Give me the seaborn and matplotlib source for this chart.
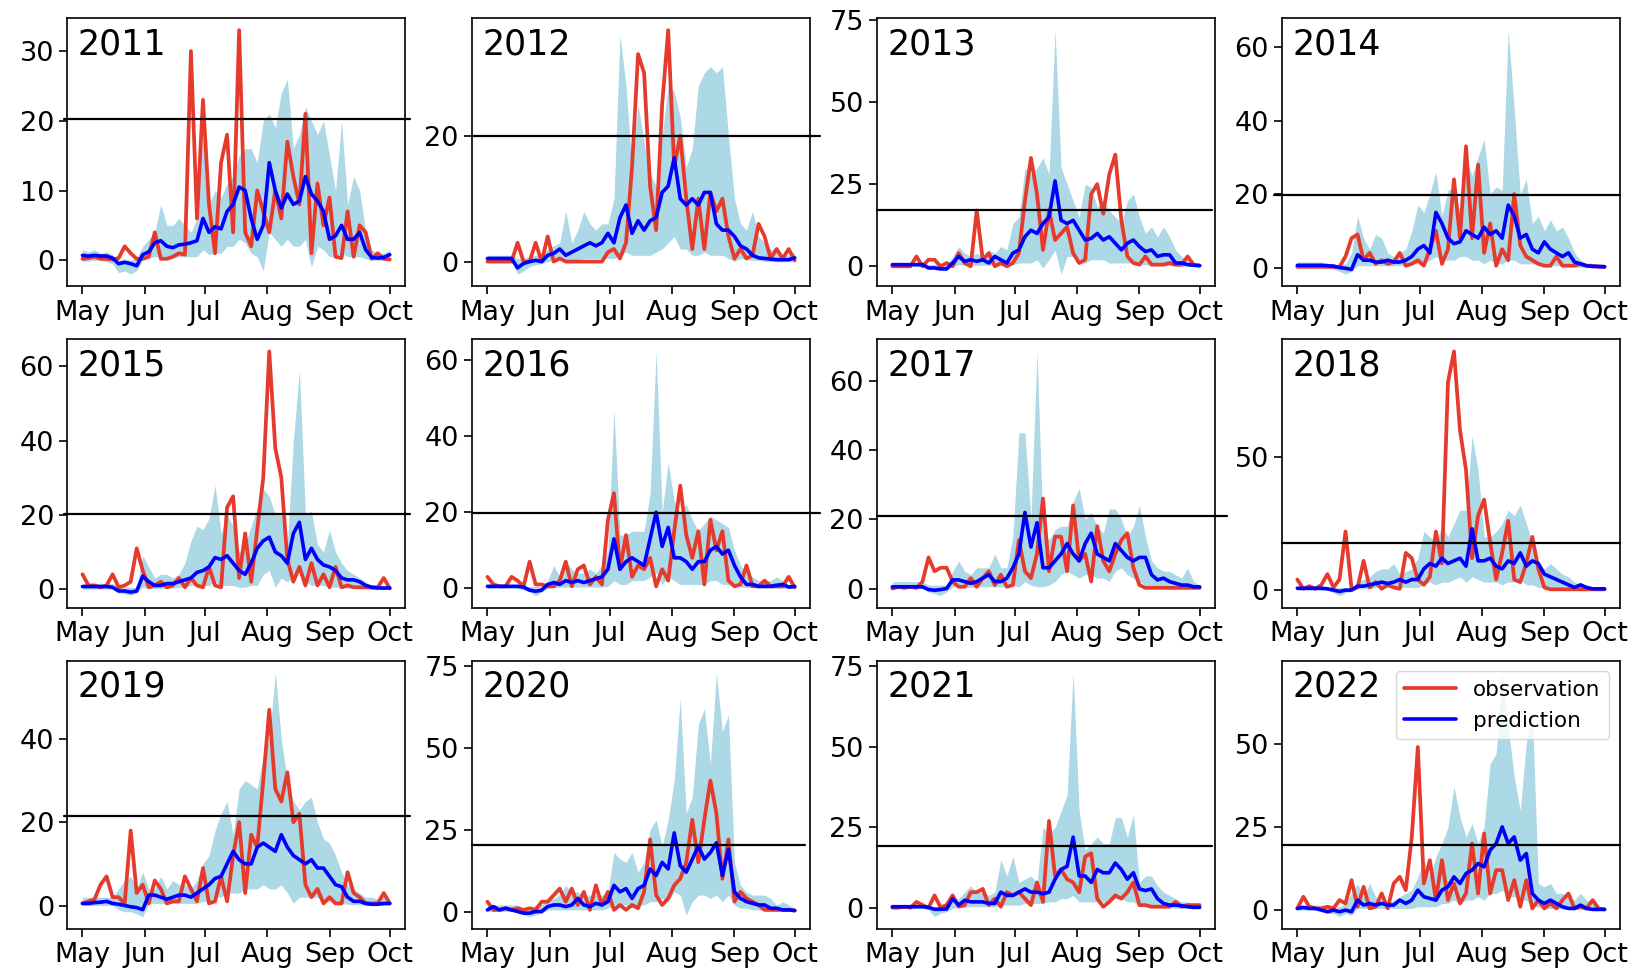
import numpy as np
import pandas as pd
import matplotlib
matplotlib.use("Agg")
import matplotlib.pyplot as plt
import matplotlib.dates as mdates
from matplotlib.ticker import MaxNLocator
import seaborn as sns

# ---------------------------------------------------------------------------
# Daily-season series (every third day, 1 May -> 1 Oct), one set per year
# ---------------------------------------------------------------------------
years = [2011, 2012, 2013, 2014, 2015, 2016, 2017, 2018, 2019, 2020, 2021, 2022]
thresholds = [20.2, 20.0, 17.1, 19.8, 20.1, 19.7, 21.1, 17.8, 21.6, 20.3, 19.4, 19.5]

obs_2011 = [0.2, 0.3, 0.5, 0.2, 0.2, 0.1, 0.3, 2.0, 1.0, 0.2, 0.2, 0.5, 4.0, 0.2, 0.2, 0.5, 1.0, 0.8, 30.0, 6.0,
            23.0, 8.0, 1.0, 14.0, 18.0, 4.0, 33.0, 4.0, 2.0, 10.0, 7.0, 4.0, 10.0, 6.0, 17.0, 12.0, 8.0, 21.0, 1.0, 11.0,
            5.0, 9.0, 0.5, 0.3, 7.0, 0.5, 5.0, 4.0, 0.2, 1.0, 0.2, 0.1]
pred_2011 = [0.7, 0.6, 0.7, 0.6, 0.6, 0.3, -0.5, -0.3, -0.5, -0.8, 0.8, 1.2, 2.5, 2.8, 2.0, 1.8, 2.2, 2.3, 2.5, 2.8,
             6.0, 4.0, 4.8, 4.5, 7.0, 8.0, 10.5, 10.0, 6.0, 3.0, 5.0, 14.0, 10.0, 7.5, 9.5, 8.0, 8.5, 12.0, 9.5, 8.5,
             7.0, 3.0, 3.5, 5.0, 3.0, 3.0, 4.0, 1.5, 0.4, 0.3, 0.4, 0.8]
lo_2011 = [-0.2, -0.1, 0.0, 0.0, -0.2, -0.5, -1.8, -1.5, -2.0, -1.5, 0.0, 0.3, 0.5, 0.5, 0.5, 0.3, 0.5, 0.5, 0.5, 0.5,
           1.5, 0.8, 1.0, 1.0, 2.0, 2.0, 3.0, 2.5, 1.0, 0.5, -1.5, 4.0, 3.0, 2.0, 3.0, 2.0, 2.0, 3.0, -1.0, 2.0,
           1.5, 0.5, 0.5, 1.0, 0.5, 0.5, 0.5, 0.2, 0.0, 0.0, 0.0, 0.2]
hi_2011 = [1.5, 1.2, 1.5, 1.0, 1.2, 0.8, 0.0, 0.2, 0.0, 0.3, 2.0, 3.0, 4.0, 8.0, 5.0, 5.0, 6.0, 5.0, 4.0, 6.0,
           18.0, 8.0, 10.0, 9.0, 11.0, 12.0, 15.0, 16.0, 16.0, 14.0, 20.0, 21.0, 19.0, 24.0, 26.0, 16.0, 18.0, 22.0, 20.0, 18.0,
           20.0, 15.0, 10.0, 20.0, 8.0, 12.0, 10.0, 4.0, 1.5, 1.0, 1.0, 1.5]

obs_2012 = [0.0, 0.0, 0.0, 0.0, 0.0, 3.0, 0.0, 0.0, 3.0, 0.0, 4.0, 0.0, 0.5, 0.0, 0.0, 0.0, 0.0, 0.0, 0.0, 0.0,
            1.5, 2.0, 0.5, 3.0, 15.0, 33.0, 30.0, 12.0, 5.0, 25.0, 36.8, 15.0, 20.0, 10.0, 2.0, 10.0, 2.0, 11.0, 8.0, 10.0,
            4.0, 0.5, 2.0, 0.5, 1.0, 6.0, 4.0, 0.5, 2.0, 0.5, 2.0, 0.2]
pred_2012 = [0.5, 0.5, 0.5, 0.5, 0.5, -1.0, -0.3, 0.0, 0.2, 0.0, 1.0, 1.3, 2.0, 1.0, 1.5, 2.0, 2.5, 3.0, 2.5, 3.0,
             4.5, 3.0, 7.0, 9.0, 4.5, 6.5, 5.0, 6.5, 7.0, 11.0, 12.0, 16.5, 10.0, 9.0, 10.0, 9.0, 11.0, 11.0, 6.0, 5.0,
             5.0, 4.0, 2.5, 2.0, 1.0, 0.6, 0.5, 0.4, 0.3, 0.3, 0.3, 0.6]
lo_2012 = [0.0, 0.0, 0.0, 0.0, 0.0, -2.0, -1.5, -0.8, -0.5, -0.3, 0.0, 0.2, 0.3, 0.3, 0.3, 0.3, 0.5, 0.5, 0.5, 0.5,
           0.5, 0.5, 1.0, 1.5, 1.0, 1.0, 1.0, 1.0, 1.5, 2.0, 3.0, 4.0, 2.0, 2.0, 1.0, 1.0, 1.5, 1.0, 1.0, 1.0,
           0.5, 0.0, 0.5, 0.3, 0.2, 0.2, 0.0, 0.0, 0.0, 0.0, 0.0, 0.0]
hi_2012 = [1.0, 1.0, 1.0, 1.0, 1.0, 0.5, 0.5, 0.8, 1.0, 1.0, 2.0, 2.5, 3.0, 8.0, 3.0, 5.0, 8.0, 6.0, 5.0, 6.0,
           6.0, 10.0, 36.0, 28.0, 15.0, 25.0, 19.0, 14.0, 12.0, 20.0, 28.0, 27.0, 23.0, 15.0, 18.0, 28.0, 30.0, 31.0, 30.0, 31.0,
           20.0, 10.0, 6.0, 5.0, 8.0, 4.0, 3.0, 2.0, 1.5, 1.0, 1.0, 1.5]

obs_2013 = [0.0, 0.0, 0.0, 0.0, 3.0, 0.0, 2.0, 2.0, 0.0, 1.0, 0.0, 4.0, 1.0, 0.0, 17.0, 2.0, 4.0, 0.0, 1.0, 0.0,
            1.0, 4.0, 20.0, 33.0, 22.0, 5.0, 17.0, 8.0, 10.0, 12.0, 4.0, 1.0, 2.0, 22.0, 25.0, 16.0, 28.0, 34.0, 14.0, 3.0,
            1.0, 0.5, 3.0, 0.5, 0.5, 0.5, 1.0, 0.5, 0.5, 3.0, 0.5, 0.2]
pred_2013 = [0.5, 0.5, 0.5, 0.5, 0.5, 0.5, -0.5, -0.5, -0.8, -0.8, 1.0, 3.0, 1.5, 2.0, 1.5, 2.0, 1.0, 3.0, 2.0, 1.0,
             4.0, 5.0, 9.0, 11.0, 10.0, 13.0, 15.0, 26.0, 14.0, 13.0, 14.0, 11.0, 8.0, 8.5, 10.0, 8.0, 9.0, 7.0, 5.0, 7.0,
             8.0, 6.0, 4.5, 5.0, 3.0, 3.5, 3.5, 1.0, 1.0, 0.5, 0.3, 0.2]
lo_2013 = [0.0, 0.0, 0.0, 0.0, 0.0, 0.0, -1.0, -1.0, -1.2, -1.0, 0.0, 0.5, 0.3, 0.3, 0.3, 0.3, 0.3, 0.5, 0.3, 0.3,
           0.5, 1.0, 1.0, 1.0, 2.0, -0.5, 2.0, 5.0, -2.4, 3.0, 3.0, 1.0, 1.0, 2.0, 2.0, 2.0, 1.0, 1.0, 1.0, 1.0,
           1.0, 0.5, 0.5, 0.3, 0.3, 0.2, 0.2, 0.0, 0.0, 0.0, 0.0, 0.0]
hi_2013 = [1.0, 1.0, 1.0, 1.0, 1.0, 1.0, 0.5, 0.5, 0.5, 0.5, 3.0, 6.0, 4.0, 3.0, 4.0, 3.0, 5.0, 4.0, 6.0, 5.0,
           13.0, 15.0, 30.0, 28.0, 30.0, 33.0, 28.0, 71.9, 30.0, 25.0, 20.0, 15.0, 25.0, 24.0, 18.0, 20.0, 17.0, 15.0, 13.0, 20.0,
           22.0, 15.0, 10.0, 12.0, 9.0, 12.0, 9.0, 5.0, 3.0, 2.0, 1.0, 1.0]

obs_2014 = [0.2, 0.2, 0.2, 0.2, 0.2, 0.2, 0.2, 0.2, 3.0, 8.0, 9.0, 2.0, 4.0, 1.0, 2.0, 1.0, 1.5, 4.0, 0.5, 1.0,
            2.0, 0.5, 5.0, 10.0, 1.0, 5.0, 24.0, 8.0, 33.0, 8.0, 28.0, 4.0, 12.0, 0.5, 5.0, 2.0, 20.0, 6.0, 3.0, 2.0,
            1.0, 0.5, 0.5, 3.0, 0.5, 0.5, 0.5, 1.0, 0.5, 0.5, 0.2, 0.2]
pred_2014 = [0.6, 0.6, 0.6, 0.6, 0.6, 0.5, 0.4, 0.0, -0.2, -0.5, 3.5, 2.0, 2.0, 1.5, 1.5, 2.0, 1.5, 1.5, 2.0, 3.0,
             5.0, 6.0, 4.0, 15.0, 12.0, 8.0, 6.5, 7.0, 10.0, 9.0, 8.0, 11.0, 9.0, 10.0, 8.0, 17.0, 14.0, 8.0, 9.0, 5.0,
             4.0, 7.0, 5.0, 4.0, 3.0, 4.0, 1.5, 1.0, 0.5, 0.3, 0.3, 0.2]
lo_2014 = [0.0, 0.0, 0.0, 0.0, 0.0, 0.0, -0.5, -1.0, -1.8, -1.0, 0.5, 0.5, 0.5, 0.5, 0.5, 0.5, 0.5, 0.5, 0.5, 1.0,
           1.0, 1.0, 2.0, 3.0, 2.0, 2.0, 2.0, 3.0, 3.0, 2.0, 2.0, 1.0, 2.0, 1.0, 1.0, 2.0, 2.0, 1.0, 1.0, 1.0,
           1.0, 0.5, 0.5, 0.5, 0.5, 0.3, 0.2, 0.0, 0.0, 0.0, 0.0, 0.0]
hi_2014 = [1.5, 1.5, 1.5, 1.5, 1.5, 1.2, 1.0, 0.5, 1.0, 4.0, 14.0, 8.0, 5.0, 9.0, 8.0, 4.0, 3.0, 4.0, 5.0, 10.0,
           17.0, 15.0, 20.0, 26.0, 14.0, 21.0, 22.0, 15.0, 30.0, 25.0, 30.0, 35.0, 20.0, 22.0, 21.0, 64.6, 43.0, 20.0, 24.0, 12.0,
           14.0, 10.0, 13.0, 10.0, 11.0, 8.0, 4.0, 2.0, 1.0, 1.0, 1.0, 1.0]

obs_2015 = [4.0, 1.0, 1.0, 0.5, 1.0, 4.0, 0.5, 1.0, 2.0, 11.0, 5.0, 0.5, 1.0, 2.0, 0.5, 1.0, 3.0, 0.5, 3.0, 1.0,
            0.5, 6.0, 1.0, 0.5, 22.0, 25.0, 3.0, 15.0, 2.0, 16.0, 30.0, 64.0, 38.0, 30.0, 8.0, 2.0, 6.0, 1.0, 7.0, 1.0,
            4.0, 0.5, 6.0, 0.5, 1.0, 0.5, 0.5, 0.5, 0.5, 0.5, 3.0, 0.2]
pred_2015 = [0.7, 0.7, 0.7, 0.7, 0.7, 0.5, -0.5, -0.5, -0.8, -0.5, 3.5, 2.0, 1.0, 1.0, 1.5, 1.5, 2.0, 2.5, 3.0, 4.5,
             5.0, 6.0, 8.5, 8.0, 9.0, 7.0, 5.0, 4.0, 7.0, 11.0, 13.0, 14.0, 10.0, 9.0, 7.0, 15.0, 18.0, 8.0, 11.0, 8.0,
             6.5, 6.0, 5.0, 3.0, 2.5, 2.5, 2.0, 1.0, 0.5, 0.3, 0.3, 0.3]
lo_2015 = [0.0, 0.0, 0.0, 0.0, 0.0, 0.0, -1.0, -1.2, -1.7, -1.0, 0.5, 0.3, 0.2, 0.2, 0.2, 0.3, 0.5, 0.5, 1.0, 1.0,
           1.0, 1.0, 2.0, 1.0, 1.0, 1.0, 0.5, 0.5, 1.0, 1.0, 4.0, 5.0, 0.5, 3.0, 2.0, 3.0, 5.0, 2.0, 1.0, 1.0,
           1.0, 0.5, 0.5, 0.5, 0.3, 0.2, 0.2, 0.0, 0.0, 0.0, 0.0, 0.0]
hi_2015 = [1.5, 1.5, 1.5, 1.5, 1.5, 1.5, 0.5, 0.5, 0.5, 0.5, 9.0, 6.0, 3.0, 4.0, 4.0, 3.0, 4.0, 7.0, 13.0, 17.0,
           16.0, 19.0, 28.0, 15.0, 20.0, 17.0, 10.0, 12.0, 17.0, 22.0, 27.0, 25.0, 20.0, 20.0, 12.0, 40.0, 59.0, 20.0, 21.0, 12.0,
           10.0, 16.0, 10.0, 7.0, 5.0, 4.0, 3.0, 2.0, 1.0, 1.0, 1.0, 1.0]

obs_2016 = [3.0, 1.0, 0.5, 0.5, 3.0, 2.0, 0.5, 7.0, 1.0, 1.0, 0.5, 0.5, 2.0, 7.0, 0.5, 5.0, 6.0, 1.0, 3.0, 1.0,
            18.0, 25.0, 5.0, 14.0, 3.0, 6.0, 5.0, 8.0, 0.5, 5.0, 2.0, 15.0, 27.0, 14.0, 8.0, 15.0, 1.0, 18.0, 10.0, 15.0,
            2.0, 0.5, 1.0, 6.0, 0.5, 0.5, 2.0, 0.5, 0.5, 0.5, 3.0, 0.2]
pred_2016 = [0.5, 0.5, 0.5, 0.5, 0.5, 0.5, 0.3, -0.5, -0.8, -0.5, 1.0, 1.5, 1.0, 2.0, 1.5, 2.0, 1.5, 2.0, 2.5, 3.0,
             5.0, 13.0, 5.0, 7.0, 8.0, 7.0, 6.0, 13.0, 20.0, 11.0, 16.0, 8.0, 8.0, 7.0, 5.0, 7.0, 7.0, 10.0, 11.0, 9.0,
             10.0, 6.0, 3.0, 1.0, 1.0, 0.5, 0.5, 0.5, 0.8, 1.0, 0.3, 0.5]
lo_2016 = [0.0, 0.0, 0.0, 0.0, 0.0, 0.0, -0.5, -1.0, -1.9, -1.0, 0.0, 0.2, 0.2, 0.3, 0.3, 0.3, 0.3, 0.3, 0.3, 0.3,
           0.5, 2.0, 1.0, 1.0, 2.0, 2.0, 2.0, 3.0, 4.0, 1.0, 3.0, 2.0, 1.0, 1.0, 1.0, 1.0, 1.0, 2.0, 2.0, 1.0,
           1.0, 0.5, 0.3, 0.2, 0.2, 0.0, 0.0, 0.0, 0.0, 0.0, 0.0, 0.0]
hi_2016 = [1.0, 1.0, 1.0, 1.0, 1.0, 1.0, 0.5, 0.5, 0.5, 0.5, 2.0, 6.0, 3.0, 7.0, 5.0, 4.0, 4.0, 5.0, 4.0, 6.0,
           10.0, 47.0, 14.0, 14.0, 15.0, 15.0, 15.0, 25.0, 62.3, 20.0, 33.0, 23.0, 20.0, 22.0, 18.0, 15.0, 17.0, 19.0, 18.0, 17.0,
           16.0, 10.0, 6.0, 4.0, 3.0, 2.0, 2.0, 2.0, 3.0, 2.0, 1.0, 1.0]

obs_2017 = [0.0, 0.5, 0.2, 0.5, 0.2, 2.0, 9.0, 5.0, 6.0, 6.0, 2.0, 0.5, 0.5, 3.0, 0.5, 3.0, 5.0, 1.0, 4.0, 0.5,
            1.0, 14.0, 5.0, 3.0, 10.0, 26.0, 5.0, 15.0, 15.0, 5.0, 24.0, 8.0, 10.0, 2.0, 18.0, 8.0, 5.0, 10.0, 14.0, 16.0,
            6.0, 1.0, 0.2, 0.2, 0.2, 0.2, 0.2, 0.2, 0.2, 0.2, 0.2, 0.2]
pred_2017 = [0.5, 0.5, 0.5, 0.5, 0.5, 0.5, -0.3, -0.5, -0.3, 0.0, 2.5, 2.5, 2.0, 1.5, 2.0, 3.0, 4.0, 2.0, 2.0, 3.0,
             6.0, 10.0, 22.0, 12.0, 19.0, 6.0, 6.0, 8.0, 10.0, 13.0, 10.0, 8.0, 13.0, 16.0, 10.0, 9.0, 8.0, 13.0, 11.0, 9.0,
             8.0, 9.0, 9.0, 4.0, 2.5, 3.0, 2.0, 1.5, 1.0, 1.0, 0.5, 0.5]
lo_2017 = [0.0, 0.0, 0.0, 0.0, 0.0, 0.0, -1.0, -1.5, -2.0, -1.0, 0.5, 0.5, 0.3, 0.3, 0.5, 0.5, 0.5, 0.5, 0.5, 0.5,
           1.0, 0.5, 2.0, 1.0, 0.5, 0.5, 1.0, 2.0, 4.0, 5.0, 4.0, 3.0, 4.0, 4.0, 3.0, 3.0, 2.0, 5.0, 6.0, 4.0,
           3.0, 2.0, 1.0, 0.5, 0.5, 0.3, 0.3, 0.2, 0.0, 0.0, 0.0, 0.0]
hi_2017 = [2.0, 2.0, 2.0, 2.0, 2.0, 2.0, 1.0, 1.0, 1.0, 1.0, 5.0, 8.0, 5.0, 4.0, 6.0, 6.0, 6.0, 10.0, 6.0, 6.0,
           15.0, 45.0, 45.0, 20.0, 68.5, 17.0, 14.0, 17.0, 18.0, 18.0, 25.0, 29.0, 20.0, 22.0, 18.0, 16.0, 23.0, 23.0, 20.0, 15.0,
           18.0, 24.0, 15.0, 8.0, 6.0, 5.0, 5.0, 4.0, 3.0, 6.0, 2.0, 1.0]

obs_2018 = [4.0, 0.5, 1.5, 0.5, 2.0, 6.0, 1.0, 4.0, 22.0, 0.5, 1.0, 11.0, 1.0, 3.0, 0.5, 2.0, 1.0, 0.5, 14.0, 12.0,
            4.0, 2.0, 5.0, 22.0, 10.0, 78.0, 89.6, 60.0, 45.0, 12.0, 28.0, 34.0, 18.0, 4.0, 14.0, 26.0, 4.0, 3.0, 10.0, 20.0,
            8.0, 1.0, 0.3, 0.3, 0.3, 0.3, 0.3, 0.3, 0.3, 0.3, 0.3, 0.3]
pred_2018 = [0.7, 0.7, 0.7, 0.7, 0.7, 0.5, 0.0, -0.5, 0.0, 0.0, 1.5, 1.5, 2.0, 2.5, 3.0, 2.5, 3.0, 4.0, 3.0, 4.0,
             4.0, 8.0, 10.0, 9.0, 12.0, 10.0, 11.0, 12.0, 9.0, 23.0, 11.0, 11.0, 12.0, 9.0, 8.0, 11.0, 10.0, 14.0, 9.0, 11.0,
             10.0, 6.0, 5.0, 4.0, 3.0, 2.0, 1.0, 2.0, 1.0, 0.5, 0.5, 0.5]
lo_2018 = [0.0, 0.0, 0.0, 0.0, 0.0, 0.0, -1.0, -2.0, -1.0, -0.5, 0.5, 0.5, 0.5, 1.0, 1.0, 1.0, 1.0, 1.0, 1.0, 1.0,
           1.0, 2.0, 3.0, 2.0, 3.0, 3.0, 4.0, 5.0, 3.0, 5.0, 4.0, 3.0, 3.0, 3.0, 2.0, 3.0, 3.0, 4.0, 2.0, 2.0,
           1.0, 1.0, 0.5, 0.5, 0.5, 0.3, 0.2, 0.0, 0.0, 0.0, 0.0, 0.0]
hi_2018 = [1.0, 1.0, 1.0, 1.0, 1.0, 1.0, 1.0, 1.0, 1.0, 1.0, 3.0, 4.0, 5.0, 7.0, 8.0, 8.0, 10.0, 6.0, 7.0, 8.0,
           12.0, 22.0, 20.0, 18.0, 24.0, 20.0, 25.0, 30.0, 30.0, 58.0, 45.0, 20.0, 20.0, 22.0, 25.0, 30.0, 28.0, 32.0, 25.0, 18.0,
           10.0, 8.0, 10.0, 8.0, 6.0, 5.0, 3.0, 2.0, 2.0, 1.0, 1.0, 1.0]

obs_2019 = [0.5, 1.0, 1.5, 5.0, 7.0, 2.0, 2.0, 0.5, 18.0, 3.0, 5.0, 0.5, 6.0, 4.0, 0.5, 1.0, 1.0, 7.0, 4.0, 1.0,
            9.0, 0.5, 1.0, 7.0, 1.0, 12.0, 20.0, 3.0, 17.0, 14.0, 30.0, 47.0, 28.0, 25.0, 32.0, 20.0, 22.0, 5.0, 2.0, 4.0,
            0.5, 2.0, 0.5, 0.5, 8.0, 3.0, 2.0, 0.5, 0.5, 0.5, 3.0, 0.5]
pred_2019 = [0.5, 0.5, 0.7, 0.8, 1.0, 0.5, 0.3, 0.0, -0.3, -0.5, -1.0, 2.5, 2.5, 2.0, 1.5, 2.0, 2.5, 2.5, 2.0, 3.0,
             4.0, 5.0, 6.5, 7.0, 10.0, 13.0, 11.0, 10.0, 10.0, 14.0, 15.0, 14.0, 13.0, 17.0, 14.0, 12.0, 11.0, 10.0, 11.0, 9.0,
             9.0, 7.0, 5.0, 4.5, 2.0, 1.0, 1.0, 0.5, 0.3, 0.3, 0.5, 0.5]
lo_2019 = [0.0, 0.0, 0.0, 0.0, 0.0, 0.0, -1.0, -1.5, -1.5, -2.0, -2.7, 0.5, 0.5, 0.5, 0.5, 0.5, 0.5, 0.5, 0.5, 0.5,
           1.0, 1.0, 2.0, 2.0, 3.0, 3.0, 3.0, 4.0, 4.0, 4.0, 5.0, 4.0, 4.0, 5.0, 3.0, 0.5, 2.0, 2.0, 2.0, 2.0,
           1.0, 1.0, 0.5, 0.5, 0.3, 0.2, 0.2, 0.0, 0.0, 0.0, 0.0, 0.0]
hi_2019 = [2.0, 2.0, 2.0, 2.0, 2.0, 2.0, 4.0, 6.0, 7.0, 4.0, 8.0, 4.0, 4.0, 7.0, 4.0, 6.0, 5.0, 5.0, 4.0, 6.0,
           10.0, 12.0, 18.0, 22.0, 25.0, 17.0, 28.0, 30.0, 29.0, 28.0, 36.0, 40.0, 55.9, 40.0, 30.0, 25.0, 23.0, 25.0, 26.0, 20.0,
           16.0, 15.0, 12.0, 8.0, 5.0, 4.0, 3.0, 2.0, 2.0, 1.5, 2.0, 1.0]

obs_2020 = [3.0, 0.5, 0.5, 1.0, 0.5, 1.0, 0.5, 1.0, 0.5, 3.0, 3.0, 5.0, 7.0, 3.0, 7.0, 2.0, 6.0, 0.5, 8.0, 2.0,
            6.0, 0.5, 2.0, 0.5, 2.0, 1.0, 6.0, 22.0, 5.0, 2.0, 4.0, 8.0, 10.0, 15.0, 28.0, 15.0, 28.0, 40.0, 30.0, 10.0,
            22.0, 3.0, 6.0, 4.0, 3.0, 2.0, 0.5, 0.5, 0.5, 0.5, 0.5, 0.3]
pred_2020 = [0.5, 1.5, 0.5, 1.0, 0.5, 0.0, -0.5, -0.5, 0.0, 0.0, 1.5, 2.0, 2.0, 1.5, 2.0, 4.0, 2.0, 1.5, 2.5, 2.0,
             3.0, 8.0, 6.0, 7.0, 4.0, 7.0, 8.0, 13.0, 11.0, 15.0, 13.0, 24.0, 14.0, 12.0, 16.0, 20.0, 16.0, 18.0, 21.0, 11.0,
             19.0, 6.0, 4.0, 3.0, 2.5, 2.0, 2.0, 1.0, 1.0, 0.5, 0.5, 0.3]
lo_2020 = [0.0, 0.0, 0.0, 0.0, 0.0, 0.0, -1.0, -1.6, -1.0, -0.5, 0.5, 0.5, 0.5, 0.5, 0.5, 0.5, 0.5, 0.5, 0.5, 0.5,
           1.0, 2.0, 2.0, 2.0, 1.0, 2.0, 2.0, 3.0, 3.0, 4.0, 3.0, 6.0, 5.0, -1.0, 3.0, 5.0, 5.0, 4.0, 5.0, 3.0,
           5.0, 2.0, 1.0, 1.0, 0.5, 0.5, 0.3, 0.2, 0.0, 0.0, 0.0, 0.0]
hi_2020 = [2.0, 2.0, 2.0, 2.0, 2.0, 2.0, 1.0, 1.0, 2.0, 2.0, 4.0, 4.0, 5.0, 8.0, 6.0, 6.0, 5.0, 5.0, 5.0, 5.0,
           6.0, 18.0, 16.0, 15.0, 18.0, 12.0, 15.0, 25.0, 28.0, 20.0, 28.0, 40.0, 65.0, 30.0, 35.0, 57.0, 62.0, 45.0, 72.9, 55.0,
           60.0, 15.0, 8.0, 6.0, 5.0, 5.0, 5.0, 4.0, 2.0, 3.0, 2.0, 1.0]

obs_2021 = [0.2, 0.2, 0.5, 0.2, 2.0, 1.0, 0.2, 4.0, 0.3, 1.0, 4.0, 0.5, 1.0, 5.0, 5.0, 6.0, 1.0, 3.0, 0.5, 5.0,
            4.0, 5.0, 3.0, 1.0, 8.0, 2.0, 27.0, 10.0, 12.0, 9.0, 8.0, 5.0, 16.0, 17.0, 3.0, 0.5, 2.0, 4.0, 3.0, 5.0,
            8.0, 1.0, 1.0, 0.5, 0.5, 0.5, 0.5, 2.0, 0.5, 1.0, 1.0, 1.0]
pred_2021 = [0.5, 0.5, 0.5, 0.5, 0.5, 0.5, 0.3, -0.3, -0.3, -0.2, 3.0, 1.0, 2.5, 2.0, 2.0, 2.0, 1.5, 1.5, 5.0, 4.0,
             4.0, 5.0, 6.0, 5.0, 5.0, 4.5, 5.0, 9.0, 12.0, 13.0, 22.0, 10.0, 10.0, 8.0, 12.0, 11.0, 11.0, 14.0, 12.0, 9.0,
             11.0, 6.0, 5.5, 6.0, 3.0, 1.5, 1.0, 1.0, 0.8, 0.5, 0.3, 0.3]
lo_2021 = [0.0, 0.0, 0.0, 0.0, 0.0, 0.0, -0.5, -2.6, -1.5, -1.0, 0.0, 0.3, 0.3, 0.5, 0.5, 0.5, 0.5, 0.5, 1.0, 1.0,
           1.0, 1.0, 1.5, 1.5, 1.5, 1.5, 2.0, 2.0, 3.0, 3.0, 4.0, 2.0, 2.0, 2.0, 2.0, 2.0, 2.0, 3.0, 3.0, 2.0,
           2.0, 1.0, 0.5, 0.5, 0.3, 0.2, 0.2, 0.0, 0.0, 0.0, 0.0, 0.0]
hi_2021 = [1.0, 1.0, 1.0, 1.0, 1.0, 1.0, 0.5, 0.5, 0.5, 0.5, 3.0, 3.0, 5.0, 7.0, 5.0, 5.0, 4.0, 5.0, 15.0, 10.0,
           16.0, 8.0, 9.0, 10.0, 8.0, 25.0, 23.0, 25.0, 30.0, 35.0, 72.8, 30.0, 18.0, 20.0, 22.0, 20.0, 20.0, 28.0, 28.0, 22.0,
           29.0, 8.0, 10.0, 10.0, 7.0, 5.0, 4.0, 3.0, 2.0, 2.0, 1.0, 1.0]

obs_2022 = [0.5, 4.0, 1.0, 0.5, 0.5, 1.0, 0.5, 3.0, 2.0, 9.0, 1.0, 7.0, 0.5, 1.0, 5.0, 0.5, 8.0, 10.0, 6.0, 22.0,
            49.0, 8.0, 15.0, 3.0, 15.0, 3.0, 8.0, 2.0, 5.0, 20.0, 5.0, 23.0, 5.0, 12.0, 12.0, 3.0, 9.0, 1.0, 9.0, 0.5,
            3.0, 0.5, 2.0, 0.5, 3.0, 5.0, 0.5, 1.0, 0.5, 3.0, 0.5, 0.2]
pred_2022 = [0.5, 0.8, 0.5, 0.5, 0.0, -0.5, 0.0, -0.5, 0.0, -0.5, 3.0, 1.5, 2.0, 1.5, 2.0, 1.5, 1.5, 3.0, 2.0, 3.0,
             6.0, 4.0, 3.5, 3.0, 6.0, 7.0, 10.0, 8.0, 11.0, 12.0, 14.0, 13.0, 18.0, 20.0, 25.0, 20.0, 22.0, 15.0, 17.0, 5.0,
             3.0, 2.0, 3.0, 2.0, 1.0, 0.5, 0.5, 1.5, 0.5, 0.2, 0.2, 0.2]
lo_2022 = [0.0, 0.0, 0.0, 0.0, 0.0, -1.0, -1.0, -2.0, -1.0, -1.5, 0.5, 0.5, 0.5, 0.5, 0.5, 0.5, 0.5, 0.5, 0.5, 0.5,
           1.0, 1.0, 1.0, 1.0, 2.0, 2.0, 3.0, 2.0, 3.0, 3.0, 4.0, 3.0, 5.0, 5.0, 6.0, 4.0, 4.0, 3.0, 3.0, 1.0,
           1.0, 0.5, 0.5, 0.5, 0.3, 0.2, 0.2, 0.2, 0.0, 0.0, 0.0, 0.0]
hi_2022 = [1.5, 1.5, 1.5, 1.5, 1.5, 1.5, 0.5, 1.0, 2.0, 5.0, 8.0, 4.0, 8.0, 4.0, 3.0, 2.0, 3.0, 4.0, 5.0, 6.0,
           10.0, 15.0, 10.0, 16.0, 20.0, 25.0, 37.0, 28.0, 22.0, 26.0, 20.0, 25.0, 44.0, 47.0, 71.3, 55.0, 40.0, 30.0, 50.0, 60.0,
           8.0, 7.0, 8.0, 5.0, 5.0, 4.0, 3.0, 5.0, 3.0, 2.0, 1.0, 1.0]

observations = [obs_2011, obs_2012, obs_2013, obs_2014, obs_2015, obs_2016,
                obs_2017, obs_2018, obs_2019, obs_2020, obs_2021, obs_2022]
predictions = [pred_2011, pred_2012, pred_2013, pred_2014, pred_2015, pred_2016,
               pred_2017, pred_2018, pred_2019, pred_2020, pred_2021, pred_2022]
lower = [lo_2011, lo_2012, lo_2013, lo_2014, lo_2015, lo_2016,
         lo_2017, lo_2018, lo_2019, lo_2020, lo_2021, lo_2022]
upper = [hi_2011, hi_2012, hi_2013, hi_2014, hi_2015, hi_2016,
         hi_2017, hi_2018, hi_2019, hi_2020, hi_2021, hi_2022]

# horizontal extent (axes fraction) of the threshold line in each panel
line_spans = [(-0.01, 1.015), (0.0, 1.03), (0.0, 0.99), (-0.023, 1.0),
              (-0.01, 1.015), (0.0, 1.03), (0.0, 1.034), (0.0, 1.0),
              (-0.01, 1.015), (0.0, 0.985), (0.0, 0.99), (0.0, 1.0)]

OBS_COLOR = "#e63a2c"
PRED_COLOR = "blue"
BAND_COLOR = "lightblue"

sns.set_style("ticks")
plt.rcParams["font.family"] = ["DejaVu Sans"]
plt.rcParams["text.color"] = "black"
plt.rcParams["axes.linewidth"] = 1.2
plt.rcParams["xtick.major.width"] = 1.2
plt.rcParams["ytick.major.width"] = 1.2
plt.rcParams["xtick.major.size"] = 6
plt.rcParams["ytick.major.size"] = 6
plt.rcParams["xtick.labelsize"] = 19.5
plt.rcParams["ytick.labelsize"] = 19.5
plt.rcParams["axes.edgecolor"] = "black"
plt.rcParams["xtick.color"] = "black"
plt.rcParams["ytick.color"] = "black"
plt.rcParams["xtick.labelcolor"] = "black"
plt.rcParams["ytick.labelcolor"] = "black"

fig, axes = plt.subplots(3, 4, figsize=(16.37, 9.76), dpi=100)
plt.subplots_adjust(left=0.041, right=0.9896, top=0.9816, bottom=0.0482,
                    wspace=0.198, hspace=0.197)

for k, (ax, year) in enumerate(zip(axes.flat, years)):
    dates = pd.date_range(f"{year}-05-01", periods=len(observations[k]), freq="3D")
    df = pd.DataFrame({
        "date": dates,
        "observation": observations[k],
        "prediction": predictions[k],
        "lower": lower[k],
        "upper": upper[k],
    })
    ax.fill_between(df["date"], df["lower"], df["upper"], color=BAND_COLOR, lw=0)
    sns.lineplot(data=df, x="date", y="observation", ax=ax, color=OBS_COLOR,
                 lw=2.7, label="observation")
    sns.lineplot(data=df, x="date", y="prediction", ax=ax, color=PRED_COLOR,
                 lw=2.6, label="prediction")

    x0, x1 = line_spans[k]
    ax.plot([x0, x1], [thresholds[k], thresholds[k]], color="black", lw=1.6,
            transform=ax.get_yaxis_transform(), clip_on=False, zorder=5)

    ax.xaxis.set_major_locator(mdates.MonthLocator(bymonth=[5, 6, 7, 8, 9, 10]))
    ax.xaxis.set_major_formatter(mdates.DateFormatter("%b"))
    ax.yaxis.set_major_locator(MaxNLocator(nbins=4, steps=[1, 2, 2.5, 5, 10]))
    ax.set_xlabel("")
    ax.set_ylabel("")
    ax.text(0.03, 0.965, str(year), transform=ax.transAxes, ha="left", va="top",
            fontsize=25, color="black")

    if k == len(years) - 1:
        leg = ax.legend(loc="upper right", fontsize=15.5, handlelength=2.4,
                        framealpha=0.8)
        for t in leg.get_texts():
            t.set_color("black")
    else:
        ax.get_legend().remove()

fig.savefig("out.png", dpi=100)
